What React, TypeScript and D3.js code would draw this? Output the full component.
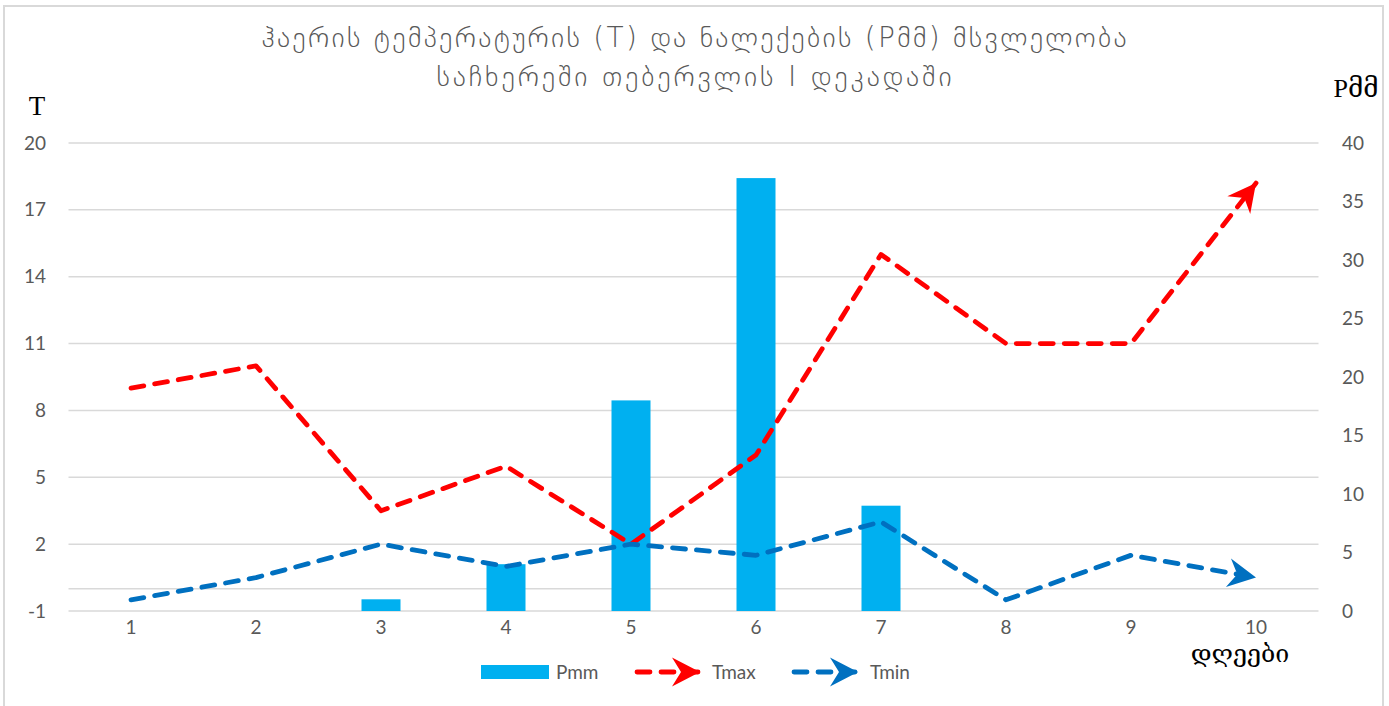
import * as d3 from "d3";

// days of the first decade of February
const days = ["1", "2", "3", "4", "5", "6", "7", "8", "9", "10"];
// precipitation, mm (right axis)
const pmm = [0, 0, 1, 4, 18, 37, 9, 0, 0, 0];
// temperature, °C (left axis)
const tmax = [9, 10, 3.5, 5.5, 2, 6, 15, 11, 11, 18.2];
const tmin = [-0.5, 0.5, 2, 1, 2, 1.5, 3, -0.5, 1.5, 0.5];

const tTicks = [-1, 2, 5, 8, 11, 14, 17, 20];
const pTicks = [0, 5, 10, 15, 20, 25, 30, 35, 40];

const titleLines = [
  "ჰაერის ტემპერატურის (T) და ნალექების (Pმმ) მსვლელობა",
  "საჩხერეში თებერვლის I დეკადაში",
];
const titleWidths = [865, 515];

const W = 1389;
const H = 706;
const left = 68.5;
const right = 1318.5;
const top = 143;
const bottom = 611;

const GRAY = "#595959";
const GRID = "#d9d9d9";
const BAR = "#00B0F0";
const RED = "#FF0000";
const BLUE = "#0070C0";
const tickFont = "Lato, 'Open Sans', sans-serif";
const geoFont = "'DejaVu Sans', 'Noto Sans', sans-serif";

export default function App() {
  const x = d3
    .scaleBand<string>()
    .domain(days)
    .range([left, right])
    .paddingInner(0.688)
    .paddingOuter(0.344);
  const cx = (d: string) => (x(d) ?? 0) + x.bandwidth() / 2;

  const yT = d3.scaleLinear().domain([-1, 20]).range([bottom, top]);
  const yP = d3.scaleLinear().domain([0, 40]).range([bottom, top]);

  const line = d3
    .line<number>()
    .x((_, i) => cx(days[i]))
    .y((d) => yT(d));

  const dash = "13 11";

  const arrow = (id: string, color: string) => (
    <marker
      id={id}
      viewBox="-30 -16 32 32"
      refX={0}
      refY={0}
      markerWidth={32}
      markerHeight={32}
      markerUnits="userSpaceOnUse"
      orient="auto"
    >
      <path d="M0,0 L-28,-14.5 L-19,0 L-28,14.5 Z" fill={color} />
    </marker>
  );

  const legendY = 672;

  return (
    <svg
      width={W}
      height={H}
      style={{ position: "absolute", left: 0, top: 0, background: "#fff" }}
    >
      <defs>
        {arrow("arrRed", RED)}
        {arrow("arrBlue", BLUE)}
      </defs>

      <rect x={4} y={6} width={1379} height={720} fill="#fff" stroke={GRID} strokeWidth={2} />

      {/* title */}
      {titleLines.map((t, i) => (
        <text
          key={i}
          x={694}
          y={47 + i * 39}
          textAnchor="middle"
          fill={GRAY}
          fontFamily={geoFont}
          fontSize={28}
          fontWeight={300}
          textLength={titleWidths[i]}
          lengthAdjust="spacing"
        >
          {t}
        </text>
      ))}

      {/* gridlines */}
      {tTicks.map((t) => (
        <line key={t} x1={left} x2={right} y1={yT(t)} y2={yT(t)} stroke={GRID} strokeWidth={1.5} />
      ))}
      <line x1={left} x2={right} y1={yT(0)} y2={yT(0)} stroke={GRID} strokeWidth={1.5} />

      {/* left ticks */}
      {tTicks.map((t) => (
        <text key={t} x={46} y={yT(t) + 6.5} textAnchor="end" fill={GRAY} fontFamily={tickFont} fontSize={19}>
          {t}
        </text>
      ))}
      {/* right ticks */}
      {pTicks.map((p) => (
        <text key={p} x={1342} y={yP(p) + 6.5} textAnchor="start" fill={GRAY} fontFamily={tickFont} fontSize={19}>
          {p}
        </text>
      ))}
      {/* x labels */}
      {days.map((d) => (
        <text key={d} x={cx(d)} y={634} textAnchor="middle" fill={GRAY} fontFamily={tickFont} fontSize={19}>
          {d}
        </text>
      ))}

      {/* axis titles */}
      <text x={37} y={115} textAnchor="middle" fontFamily="'Liberation Serif', serif" fontSize={27} fill="#000">
        T
      </text>
      <text x={1356} y={97} textAnchor="middle" fontFamily="'Liberation Serif', 'DejaVu Serif', serif" fontSize={26} fill="#000">
        Pმმ
      </text>
      <text x={1240} y={662} textAnchor="middle" fontFamily="'DejaVu Serif', serif" fontSize={25} fill="#000">
        დღეები
      </text>

      {/* bars */}
      {pmm.map((p, i) =>
        p > 0 ? (
          <rect
            key={i}
            x={x(days[i])}
            y={yP(p)}
            width={x.bandwidth()}
            height={yP(0) - yP(p)}
            fill={BAR}
          />
        ) : null
      )}

      {/* lines */}
      <path
        d={line(tmax) ?? ""}
        fill="none"
        stroke={RED}
        strokeWidth={4.8}
        strokeDasharray={dash}
        strokeLinecap="round"
        strokeLinejoin="round"
        markerEnd="url(#arrRed)"
      />
      <path
        d={line(tmin) ?? ""}
        fill="none"
        stroke={BLUE}
        strokeWidth={4.8}
        strokeDasharray={dash}
        strokeLinecap="round"
        strokeLinejoin="round"
        markerEnd="url(#arrBlue)"
      />

      {/* legend */}
      <rect x={481} y={legendY - 7} width={68} height={14} fill={BAR} />
      <text x={556} y={legendY + 6.5} fill={GRAY} fontFamily={tickFont} fontSize={19}>
        Pmm
      </text>
      <path
        d={`M637,${legendY} L700,${legendY}`}
        stroke={RED}
        strokeWidth={4.8}
        strokeDasharray={dash}
        strokeLinecap="round"
        markerEnd="url(#arrRed)"
      />
      <text x={712} y={legendY + 6.5} fill={GRAY} fontFamily={tickFont} fontSize={19}>
        Tmax
      </text>
      <path
        d={`M794,${legendY} L858,${legendY}`}
        stroke={BLUE}
        strokeWidth={4.8}
        strokeDasharray={dash}
        strokeLinecap="round"
        markerEnd="url(#arrBlue)"
      />
      <text x={870} y={legendY + 6.5} fill={GRAY} fontFamily={tickFont} fontSize={19}>
        Tmin
      </text>
    </svg>
  );
}
